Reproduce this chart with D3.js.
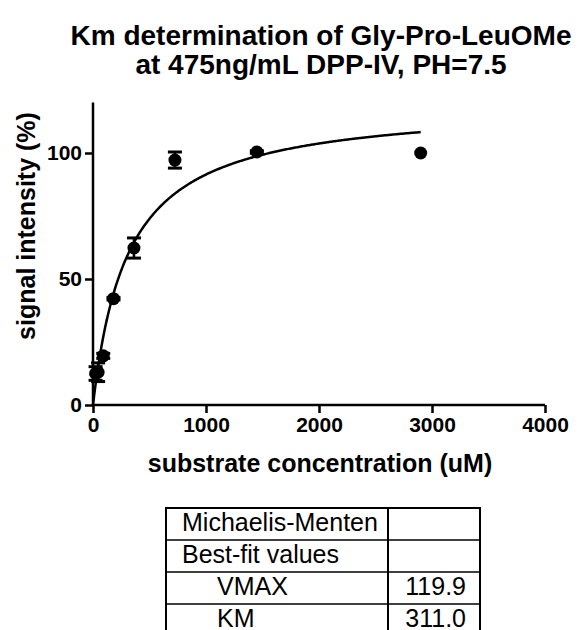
<!DOCTYPE html>
<html><head><meta charset="utf-8">
<script src="https://cdn.jsdelivr.net/npm/d3@7"></script>
<style>html,body{margin:0;padding:0;background:#fff;} svg{display:block;}</style>
</head><body>
<svg id="chart" width="580" height="630"></svg>
<script>
const titleLines = ["Km determination of Gly-Pro-LeuOMe", "at 475ng/mL DPP-IV, PH=7.5"];
const xLabel = "substrate concentration (uM)";
const yLabel = "signal intensity (%)";
const concentrations = [22.65, 45.3, 90.6, 181.25, 362.5, 725, 1450, 2900];
const signalMean = [12.5, 13.0, 19.5, 42.2, 62.3, 97.2, 100.4, 100.0];
const signalSD = [2.7, 3.7, 1.0, 0.5, 4.0, 3.2, 0.5, 0.0];
const xTicks = [0, 1000, 2000, 3000, 4000];
const yTicks = [0, 50, 100];
const fitName = "Michaelis-Menten";
const fitRows = ["Michaelis-Menten", "Best-fit values", "VMAX", "KM"];
const fitValues = ["", "", "119.9", "311.0"];
const VMAX = 119.9, KM = 311.0, fitXMax = 2900;

const svg = d3.select("#chart");
const font = "'Liberation Sans', Arial, sans-serif";

const x = d3.scaleLinear().domain([0, 4000]).range([93, 545]);
const y = d3.scaleLinear().domain([0, 120]).range([405, 102.6]);

// title
svg.append("g").selectAll("text").data(titleLines).join("text")
  .attr("x", 321).attr("y", (d, i) => 45 + i * 29)
  .attr("text-anchor", "middle").attr("font-family", font)
  .attr("font-weight", "bold").attr("font-size", 28).text(d => d);

// axes
const xAxis = svg.append("g").attr("transform", "translate(0,405)")
  .call(d3.axisBottom(x).tickValues(xTicks).tickSize(8).tickPadding(4).tickFormat(d3.format("d")));
const yAxis = svg.append("g").attr("transform", "translate(93,0)")
  .call(d3.axisLeft(y).tickValues(yTicks).tickSize(8).tickPadding(3).tickFormat(d3.format("d")));
[xAxis, yAxis].forEach(a => {
  a.select(".domain").attr("stroke", "#000").attr("stroke-width", 2.5);
  a.selectAll(".tick line").attr("stroke", "#000").attr("stroke-width", 2.5);
  a.selectAll(".tick text").attr("font-family", font).attr("font-weight", "bold")
    .attr("font-size", 21).attr("fill", "#000");
});
yAxis.select(".domain").attr("d", `M-0,${y(120)}V${y(0)}`);
xAxis.select(".domain").attr("d", `M${x(0)},0H${x(4000)}`);

// axis titles
svg.append("text").attr("x", 320).attr("y", 472).attr("text-anchor", "middle")
  .attr("font-family", font).attr("font-weight", "bold").attr("font-size", 25).text(xLabel);
svg.append("text").attr("transform", "translate(35,226) rotate(-90)").attr("text-anchor", "middle")
  .attr("font-family", font).attr("font-weight", "bold").attr("font-size", 25).text(yLabel);

// fit curve
const curveX = d3.range(0, fitXMax + 1, 10);
const line = d3.line().x(d => x(d)).y(d => y(VMAX * d / (KM + d)));
svg.append("path").datum(curveX).attr("d", line).attr("fill", "none")
  .attr("stroke", "#000").attr("stroke-width", 2.5);

// data
const pts = concentrations.map((c, i) => ({c, m: signalMean[i], s: signalSD[i]}));
const eb = svg.append("g").attr("stroke", "#000");
pts.filter(p => p.s > 0).forEach(p => {
  const cx = x(p.c);
  eb.append("line").attr("x1", cx).attr("x2", cx).attr("y1", y(p.m - p.s)).attr("y2", y(p.m + p.s)).attr("stroke-width", 2.5);
  [p.m - p.s, p.m + p.s].forEach(v => eb.append("line").attr("x1", cx - 7).attr("x2", cx + 7)
    .attr("y1", y(v)).attr("y2", y(v)).attr("stroke-width", 3));
});
svg.append("g").selectAll("circle").data(pts).join("circle")
  .attr("cx", d => x(d.c)).attr("cy", d => y(d.m)).attr("r", 6.5).attr("fill", "#000");

// table
const tx0 = 166, tx1 = 388, tx2 = 480, ty0 = 508, rh = 32;
const tbl = svg.append("g");
tbl.selectAll("text.lab").data(fitRows).join("text").attr("class", "lab")
  .attr("x", (d, i) => i >= 2 ? 217 : 182).attr("y", (d, i) => ty0 + i * rh + 23)
  .attr("font-family", font).attr("font-size", 25).text(d => d);
tbl.selectAll("text.val").data(fitValues).join("text").attr("class", "val")
  .attr("x", 466).attr("y", (d, i) => ty0 + i * rh + 23).attr("text-anchor", "end")
  .attr("font-family", font).attr("font-size", 25).text(d => d);
tbl.selectAll("line.h").data(d3.range(1, fitRows.length)).join("line").attr("class", "h")
  .attr("x1", tx0).attr("x2", tx2).attr("y1", i => ty0 + i * rh).attr("y2", i => ty0 + i * rh)
  .attr("stroke", "#000").attr("stroke-width", 1.5);
tbl.append("line").attr("x1", tx1).attr("x2", tx1).attr("y1", ty0).attr("y2", ty0 + fitRows.length * rh)
  .attr("stroke", "#000").attr("stroke-width", 2);
tbl.append("rect").attr("x", tx0).attr("y", ty0).attr("width", tx2 - tx0).attr("height", fitRows.length * rh)
  .attr("fill", "none").attr("stroke", "#000").attr("stroke-width", 2);
</script>
</body></html>
